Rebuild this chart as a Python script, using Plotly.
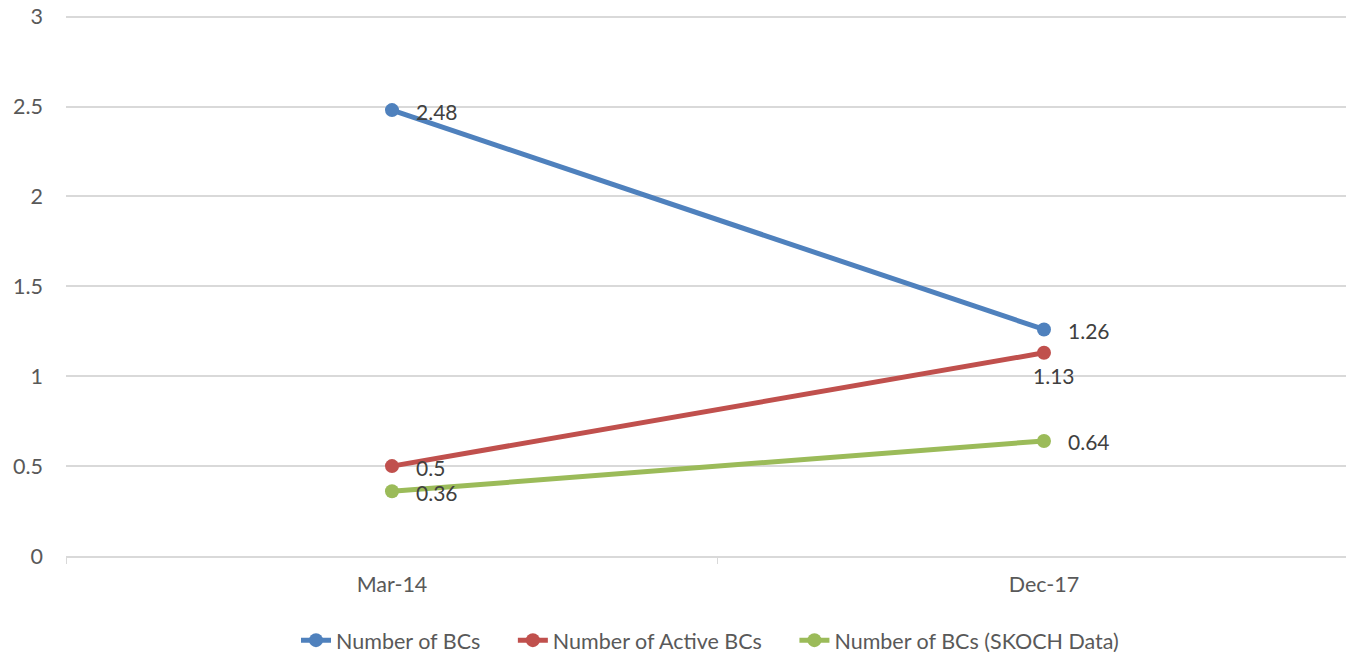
import plotly.graph_objects as go

periods = ["Mar-14", "Dec-17"]
bcs = [2.48, 1.26]
active_bcs = [0.5, 1.13]
skoch_bcs = [0.36, 0.64]

series = [
    ("Number of BCs", bcs, "#4F81BD", ["right", "right"]),
    ("Number of Active BCs", active_bcs, "#C0504D", ["right", "below"]),
    ("Number of BCs (SKOCH Data)", skoch_bcs, "#9BBB59", ["right", "right"]),
]

pad = "\u00a0" * 5  # a bit more space between legend entries

fig = go.Figure()
for i, (name, vals, col, pos) in enumerate(series):
    fig.add_trace(go.Scatter(
        x=periods, y=vals, name=name + (pad if i < 2 else ""), mode="lines+markers",
        line=dict(color=col, width=5),
        marker=dict(color=col, size=14),
    ))
    # data labels
    for p, v, where in zip(periods, vals, pos):
        if where == "right":
            fig.add_annotation(x=p, y=v, text=str(v), showarrow=False,
                               xanchor="left", xshift=22, yshift=-1,
                               font=dict(color="#404040", size=21))
        else:
            fig.add_annotation(x=p, y=v, text=str(v), showarrow=False,
                               xanchor="center", xshift=10, yshift=-23,
                               font=dict(color="#404040", size=21))

# page body has an 8px margin, so the figure is a bit smaller than the window
fig.update_layout(
    width=1346, height=644,
    margin=dict(l=58, r=0, t=5, b=96, autoexpand=False),
    plot_bgcolor="white", paper_bgcolor="white",
    font=dict(family="Lato", size=21.5, color="#595959"),
    showlegend=True,
    legend=dict(orientation="h", x=0.5, xanchor="center", y=-0.155, yanchor="middle",
                font=dict(size=21.5, color="#595959")),
    xaxis=dict(type="category", range=[-0.5, 1.4755], tickson="boundaries",
               ticks="outside", ticklen=6, tickcolor="#d9d9d9", automargin=False,
               showgrid=False, showline=True, linecolor="#d9d9d9", linewidth=1.5,
               zeroline=False, ticklabelstandoff=8),
    yaxis=dict(range=[0, 3.02], tickvals=[0, 0.5, 1, 1.5, 2, 2.5, 3],
               showgrid=True, gridcolor="#d9d9d9", gridwidth=1.5,
               zeroline=False, showline=False, ticks="", ticklabelstandoff=22,
               ticklabeloverflow="allow", automargin=False),
)

fig.write_html("out.html")
